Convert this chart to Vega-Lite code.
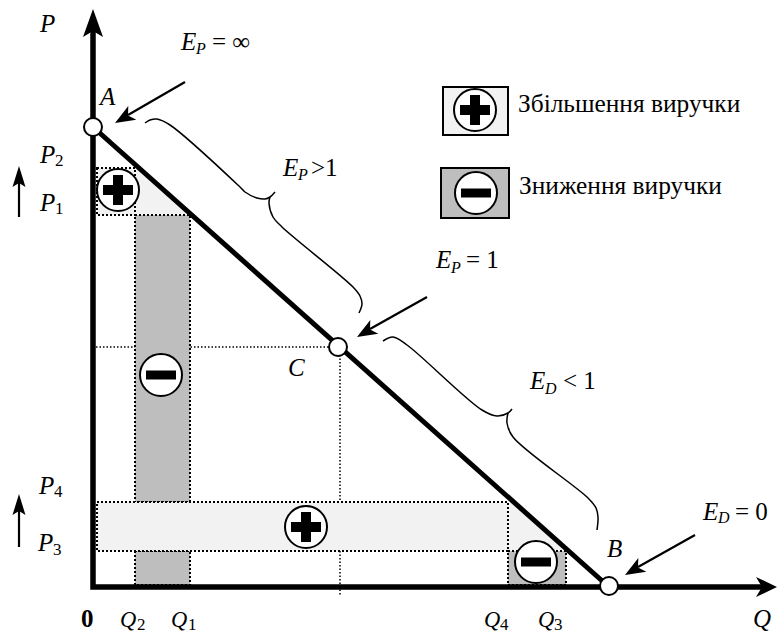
{
"$schema":"https://vega.github.io/schema/vega-lite/v6.json",
"width":777,"height":635,"padding":0,"autosize":{"type":"none"},"background":"white",
"config":{"view":{"stroke":null}},
"encoding":{
"x":{"field":"Q","type":"quantitative","axis":null,"scale":{"domain":[-93,684],"nice":false,"zero":false}},
"y":{"field":"P","type":"quantitative","axis":null,"scale":{"domain":[-48,587],"nice":false,"zero":false}}
},
"layer":[
{"data":{"values":[{"part":"h","n":1,"Q":3,"P":240},{"part":"h","n":2,"Q":237,"P":240},{"part":"v","n":1,"Q":247,"P":232},{"part":"v","n":2,"Q":247,"P":-8}]},
 "mark":{"type":"line","stroke":"black","strokeWidth":1.5,"strokeDash":[1.5,2]},
 "encoding":{"detail":{"field":"part"},"order":{"field":"n"}}},
{"data":{"values":[{"Q":42,"Q2":97,"P":85,"P2":372},{"Q":42,"Q2":97,"P":2,"P2":36},{"Q":415,"Q2":473,"P":2,"P2":36}]},
 "mark":{"type":"rect","fill":"#bebebe","stroke":"black","strokeWidth":2,"strokeDash":[2,2]},
 "encoding":{"x2":{"field":"Q2"},"y2":{"field":"P2"}}},
{"data":{"values":[{"Q":4,"Q2":42,"P":372,"P2":419},{"Q":4,"Q2":415,"P":36,"P2":85}]},
 "mark":{"type":"rect","fill":"#f2f2f2","stroke":"black","strokeWidth":2,"strokeDash":[2,2]},
 "encoding":{"x2":{"field":"Q2"},"y2":{"field":"P2"}}},
{"data":{"values":[{"tri":"a","Q":43,"P":419,"P0":373},{"tri":"a","Q":46,"P":419,"P0":373},{"tri":"a","Q":99,"P":373,"P0":373},{"tri":"b","Q":416,"P":84,"P0":37},{"tri":"b","Q":421,"P":84,"P0":37},{"tri":"b","Q":476,"P":37,"P0":37}]},
 "mark":{"type":"area","fill":"#f2f2f2","stroke":null},
 "encoding":{"y2":{"field":"P0"},"detail":{"field":"tri"}}},
{"data":{"values":[{"b":"1a","n":1,"Q":52,"P":464},{"b":"1a","n":2,"Q":57,"P":467},{"b":"1a","n":3,"Q":64,"P":468},{"b":"1a","n":4,"Q":77,"P":462},{"b":"1a","n":5,"Q":147,"P":400},{"b":"1a","n":6,"Q":152,"P":395},{"b":"1a","n":7,"Q":164,"P":389},{"b":"1a","n":8,"Q":172,"P":388},{"b":"1a","n":9,"Q":177,"P":390},{"b":"1a","n":10,"Q":182,"P":395},
{"b":"1b","n":1,"Q":177,"P":390},{"b":"1b","n":2,"Q":176,"P":384},{"b":"1b","n":3,"Q":180,"P":370},{"b":"1b","n":4,"Q":189,"P":360},{"b":"1b","n":5,"Q":260,"P":300},{"b":"1b","n":6,"Q":267,"P":291},{"b":"1b","n":7,"Q":269,"P":283},{"b":"1b","n":8,"Q":266,"P":274},
{"b":"2a","n":1,"Q":290,"P":246},{"b":"2a","n":2,"Q":300,"P":250},{"b":"2a","n":3,"Q":314,"P":242},{"b":"2a","n":4,"Q":389,"P":177},{"b":"2a","n":5,"Q":404,"P":171},{"b":"2a","n":6,"Q":415,"P":174},{"b":"2a","n":7,"Q":419,"P":178},
{"b":"2b","n":1,"Q":415,"P":174},{"b":"2b","n":2,"Q":414,"P":164},{"b":"2b","n":3,"Q":420,"P":150},{"b":"2b","n":4,"Q":495,"P":89},{"b":"2b","n":5,"Q":503,"P":79},{"b":"2b","n":6,"Q":505,"P":70},{"b":"2b","n":7,"Q":504,"P":57}]},
 "mark":{"type":"line","stroke":"black","strokeWidth":1.5,"interpolate":"catmull-rom"},
 "encoding":{"detail":{"field":"b"},"order":{"field":"n"}}},
{"data":{"values":[{"Q":0,"P":460},{"Q":516,"P":0}]},
 "mark":{"type":"line","stroke":"black","strokeWidth":5}},
{"data":{"values":[{"n":1,"Q":0,"P":556},{"n":2,"Q":0,"P":0},{"n":3,"Q":669,"P":0}]},
 "mark":{"type":"line","stroke":"black","strokeWidth":5.5,"strokeJoin":"miter","strokeCap":"butt"},
 "encoding":{"order":{"field":"n"}}},
{"data":{"values":[{"a":"A","n":1,"Q":92,"P":505},{"a":"A","n":2,"Q":35,"P":472},{"a":"C","n":1,"Q":334,"P":290},{"a":"C","n":2,"Q":277,"P":258},{"a":"B","n":1,"Q":602,"P":52},{"a":"B","n":2,"Q":545,"P":20},{"a":"u1","n":1,"Q":-74,"P":370},{"a":"u1","n":2,"Q":-74,"P":404},{"a":"u2","n":1,"Q":-74,"P":40},{"a":"u2","n":2,"Q":-74,"P":76}]},
 "mark":{"type":"line","stroke":"black","strokeWidth":2.2},
 "encoding":{"detail":{"field":"a"},"order":{"field":"n"}}},
{"data":{"values":[{"Q":22,"P":464},{"Q":264,"P":250},{"Q":532,"P":12}]},
 "mark":{"type":"point","shape":"M0,0L21.3,-3.2L13,-7.6L13.3,-17Z","size":4,"filled":true,"fill":"black","opacity":1}},
{"data":{"values":[{"Q":-74,"P":421},{"Q":-74,"P":93}]},
 "mark":{"type":"point","shape":"M0,0L6.5,21L0,17L-6.5,21Z","size":4,"filled":true,"fill":"black","opacity":1}},
{"data":{"values":[{"Q":0,"P":578}]},
 "mark":{"type":"point","shape":"M0,0L10,28L0,22L-10,28Z","size":4,"filled":true,"fill":"black","opacity":1}},
{"data":{"values":[{"Q":684,"P":0}]},
 "mark":{"type":"point","shape":"M0,0L-21,-10L-15,0L-21,10Z","size":4,"filled":true,"fill":"black","opacity":1}},
{"data":{"values":[{"Q":0,"P":460},{"Q":516,"P":1},{"Q":245,"P":240}]},
 "mark":{"type":"point","shape":"circle","size":324,"filled":true,"fill":"white","stroke":"black","strokeWidth":2,"opacity":1}},
{"data":{"values":[{"Q":350,"Q2":415,"P":452,"P2":500}]},
 "mark":{"type":"rect","fill":"#f2f2f2","stroke":"black","strokeWidth":2},
 "encoding":{"x2":{"field":"Q2"},"y2":{"field":"P2"}}},
{"data":{"values":[{"Q":348,"Q2":416,"P":369,"P2":419}]},
 "mark":{"type":"rect","fill":"#bebebe","stroke":"black","strokeWidth":2},
 "encoding":{"x2":{"field":"Q2"},"y2":{"field":"P2"}}},
{"data":{"values":[{"Q":25,"P":397},{"Q":213,"P":60},{"Q":382,"P":477},{"Q":68,"P":212},{"Q":443,"P":25},{"Q":383,"P":394}]},
 "mark":{"type":"point","shape":"circle","size":1764,"filled":true,"fill":"white","stroke":"black","strokeWidth":2,"opacity":1}},
{"data":{"values":[{"Q":25,"P":397},{"Q":213,"P":60},{"Q":382,"P":477}]},
 "mark":{"type":"point","shape":"M-15,-5L-5,-5L-5,-15L5,-15L5,-5L15,-5L15,5L5,5L5,15L-5,15L-5,5L-15,5Z","size":4,"filled":true,"fill":"black","opacity":1}},
{"data":{"values":[{"Q":68,"P":212},{"Q":443,"P":25},{"Q":383,"P":394}]},
 "mark":{"type":"point","shape":"M-15,-4.5L15,-4.5L15,4.5L-15,4.5Z","size":4,"filled":true,"fill":"black","opacity":1}},
{"data":{"values":[{"t":"P","Q":-53,"P":555},{"t":"A","Q":7,"P":482},{"t":"P","Q":-53,"P":424},{"t":"P","Q":-53,"P":376},{"t":"P","Q":-54,"P":93},{"t":"P","Q":-55,"P":36},{"t":"Q","Q":660,"P":-40},{"t":"B","Q":514,"P":30},{"t":"C","Q":195,"P":211},{"t":"E","Q":88,"P":537},{"t":"E","Q":190,"P":411},{"t":"E","Q":343,"P":319},{"t":"E","Q":437,"P":198},{"t":"E","Q":610,"P":67}]},
 "mark":{"type":"text","font":"Liberation Serif","fontStyle":"italic","fontSize":25,"align":"left","baseline":"alphabetic","color":"black"},
 "encoding":{"text":{"field":"t"}}},
{"data":{"values":[{"t":"Q","Q":27,"P":-40},{"t":"Q","Q":78,"P":-40},{"t":"Q","Q":391,"P":-40},{"t":"Q","Q":445,"P":-40}]},
 "mark":{"type":"text","font":"Liberation Serif","fontStyle":"italic","fontSize":22.5,"align":"left","baseline":"alphabetic","color":"black"},
 "encoding":{"text":{"field":"t"}}},
{"data":{"values":[{"t":"P","Q":103,"P":533},{"t":"P","Q":205,"P":407},{"t":"P","Q":358,"P":314},{"t":"D","Q":452,"P":193},{"t":"D","Q":625,"P":64}]},
 "mark":{"type":"text","font":"Liberation Serif","fontStyle":"italic","fontSize":16,"align":"left","baseline":"alphabetic","color":"black"},
 "encoding":{"text":{"field":"t"}}},
{"data":{"values":[{"t":"2","Q":-38,"P":421},{"t":"1","Q":-38,"P":373},{"t":"4","Q":-39,"P":90},{"t":"3","Q":-40,"P":32},{"t":"2","Q":44,"P":-43},{"t":"1","Q":95,"P":-43},{"t":"4","Q":407,"P":-43},{"t":"3","Q":461,"P":-43}]},
 "mark":{"type":"text","font":"Liberation Serif","fontSize":17,"align":"left","baseline":"alphabetic","color":"black"},
 "encoding":{"text":{"field":"t"}}},
{"data":{"values":[{"t":"= ∞","Q":119,"P":537},{"t":">1","Q":218,"P":411},{"t":"= 1","Q":373,"P":319},{"t":"< 1","Q":470,"P":198},{"t":"= 0","Q":642,"P":67}]},
 "mark":{"type":"text","font":"Liberation Serif","fontSize":25,"align":"left","baseline":"alphabetic","color":"black"},
 "encoding":{"text":{"field":"t"}}},
{"data":{"values":[{"t":"Збільшення виручки","Q":425,"P":475},{"t":"Зниження виручки","Q":426,"P":393}]},
 "mark":{"type":"text","font":"Liberation Serif","fontSize":25.4,"align":"left","baseline":"alphabetic","color":"black"},
 "encoding":{"text":{"field":"t"}}},
{"data":{"values":[{"t":"0","Q":-12,"P":-40}]},
 "mark":{"type":"text","font":"Liberation Serif","fontWeight":"bold","fontSize":25,"align":"left","baseline":"alphabetic","color":"black"},
 "encoding":{"text":{"field":"t"}}}
]
}
